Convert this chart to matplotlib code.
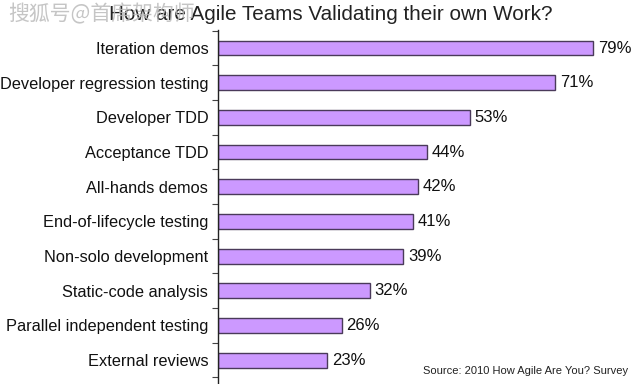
import matplotlib.pyplot as plt
from matplotlib.ticker import FixedLocator

plt.rcParams["font.family"] = ["Liberation Sans", "DejaVu Sans"]

categories = [
    "Iteration demos",
    "Developer regression testing",
    "Developer TDD",
    "Acceptance TDD",
    "All-hands demos",
    "End-of-lifecycle testing",
    "Non-solo development",
    "Static-code analysis",
    "Parallel independent testing",
    "External reviews",
]
values = [79, 71, 53, 44, 42, 41, 39, 32, 26, 23]

BAR_FACE = "#cc99ff"
BAR_EDGE = "#4a3a5a"
TEXT = "#111111"

fig = plt.figure(figsize=(6.38, 3.84), dpi=100)
ax = fig.add_axes([218 / 638, 0, 420 / 638, 354 / 384])

pos = list(range(len(categories)))
ax.barh(pos, values, height=0.43, color=BAR_FACE, edgecolor=BAR_EDGE, linewidth=1.0)
for y, v in zip(pos, values):
    ax.text(v + 1.0, y, f"{v}%", va="center", ha="left", fontsize=12, color=TEXT)

ax.set_xlim(0, 88.4)
ax.set_ylim(9.69, -0.52)
ax.set_yticks(pos)
ax.set_yticklabels(categories, fontsize=11.8, color=TEXT)
ax.tick_params(axis="y", which="major", length=0, pad=7)
ax.yaxis.set_minor_locator(FixedLocator([i + 0.5 for i in range(-1, len(categories))]))
ax.tick_params(axis="y", which="minor", length=4, width=0.8, color="#444444")
ax.set_xticks([])
for side in ("top", "right", "bottom"):
    ax.spines[side].set_visible(False)
ax.spines["left"].set_color("#222222")
ax.spines["left"].set_linewidth(1.0)

fig.text(0.519, 0.962, "How are Agile Teams Validating their own Work?",
         ha="center", va="center", fontsize=14.9, color="#222222")
fig.text(0.985, 0.02, "Source: 2010 How Agile Are You? Survey",
         ha="right", va="bottom", fontsize=8, color="#222222")
fig.text(0.012, 0.962, "搜狐号@首席架构师", ha="left", va="center", fontsize=15,
         color="#bbbbbb", alpha=0.85,
         family=["Noto Sans CJK SC", "DejaVu Sans"])

fig.savefig("out.png", dpi=100, facecolor="white")
